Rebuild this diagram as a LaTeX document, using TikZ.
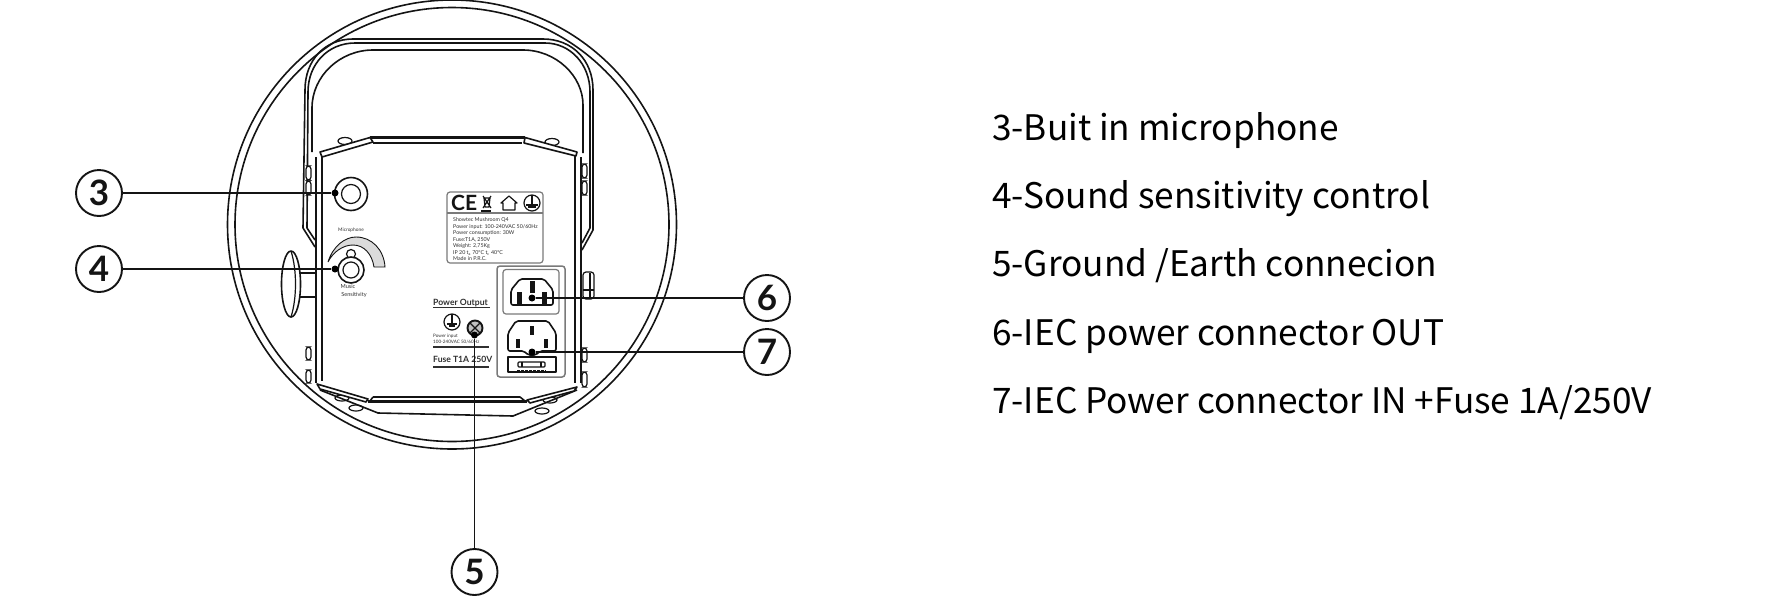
\documentclass[tikz,border=0pt]{standalone}
\usepackage{fontspec}
\setmainfont{Lato}
\newfontfamily\listfont{Noto Sans CJK SC}
\definecolor{ink}{HTML}{141414}
\definecolor{smalltxt}{HTML}{303030}
\definecolor{panel}{HTML}{7A7A7A}
\tikzset{
  art/.style={draw=ink,line width=1.6pt,line join=round},
  thin art/.style={draw=ink,line width=1.2pt,line join=round},
  soft/.style={draw=panel,line width=1.2pt,rounded corners=3pt},
  callout/.style={circle,draw=ink,line width=1.9pt,fill=white,minimum size=46pt,inner sep=0pt,font=\fontsize{35}{35}\selectfont\bfseries,text=ink},
  dot/.style={circle,fill=black,minimum size=7pt,inner sep=0pt},
  leader/.style={draw=ink,line width=1.7pt},
  listitem/.style={anchor=base west,inner sep=0pt,font=\listfont\fontsize{35.2}{40}\selectfont,text=black},
  tiny/.style={anchor=base west,inner sep=0pt,font=\fontsize{5.3}{6}\selectfont,text=smalltxt},
  panellabel/.style={anchor=base west,inner sep=0pt,font=\fontsize{8.6}{9}\selectfont\bfseries,text=smalltxt},
  rule/.style={draw=smalltxt,line width=1.4pt},
  pin/.style={fill=ink,draw=none},
  bump/.style={draw=ink,line width=1.2pt,fill=white,rounded corners=3pt},
}
\begin{document}
\begin{tikzpicture}[x=1pt,y=-1pt]
\useasboundingbox (0,0) rectangle (1785,600);
\fill[white] (0,0) rectangle (1785,600);
% housing ring
\draw[art] (452,224.5) circle (224.5pt);
\draw[art] (452,224.5) circle (217pt);
% handle
\draw[art] (315,247) -- (303,228) -- (305,90) .. controls (305,60) and (325,39) .. (353,39) -- (543,39) .. controls (572,39) and (593,60) .. (593,90) -- (593,230) -- (582,250);
\draw[art] (315,240) -- (307,228) -- (308,92) .. controls (308,64) and (328,43) .. (355,43) -- (545,43) .. controls (570,43) and (590,64) .. (590,92) -- (590,228) -- (582,243);
\draw[art] (312,152) -- (312,108) .. controls (312,76) and (340,50) .. (373,50) -- (523,50) .. controls (556,50) and (583,76) .. (583,105) -- (583,153);
% side bumps
\foreach \x/\a/\b in {306/166/180,306/181/195,306/347/360,306/370/383,582/164/178,582/181/195,582/348/362,582/372/387}
  \draw[bump] (\x,\a) rectangle ++(5,\b-\a);
\draw[bump] (583,272) rectangle (594,299);
\draw[thin art] (590,273) -- (590,298) (583,290) -- (594,290);
% top and bottom bumps
\draw[thin art,fill=white] (345,141) ellipse (7pt and 3.5pt);
\draw[thin art,fill=white] (552,142) ellipse (7pt and 3.5pt);
\draw[thin art,fill=white] (342,398) ellipse (7pt and 3pt);
\draw[thin art,fill=white] (356,408) ellipse (7pt and 3pt);
\draw[thin art,fill=white] (550,400) ellipse (7pt and 3pt);
\draw[thin art,fill=white] (542,411) ellipse (7pt and 3pt);
% side knob
\draw[art] (300,273) -- (315,273) (300,297) -- (315,297);
\draw[art,fill=white] (291,284) ellipse (9.5pt and 33pt);
\draw[thin art] (291,251) .. controls (297,270) and (297,298) .. (291,317);
% box
\draw[line width=2.8pt,draw=ink] (316,157) -- (316,383);
\draw[art] (322,155) -- (322,381);
\draw[line width=2.8pt,draw=ink] (581,157) -- (581,383);
\draw[art] (575,155) -- (575,383);
% top edge
\draw[line width=2.6pt,draw=ink] (370,137.5) -- (525,137.5);
\draw[art] (373,143) -- (522,143);
\draw[art,fill=white] (320,152) -- (370,137.5) -- (373,142) -- (322,157) -- cycle;
\draw[art,fill=white] (525,137.5) -- (577,152) -- (576,156) -- (524,143) -- cycle;
% bottom edge
\draw[line width=2.8pt,draw=ink] (368,401.5) -- (527,401.5);
\draw[art] (373,397) -- (520,397) (373,397) -- (370,401) (520,397) -- (525,401);
\draw[art] (320,390) -- (378,413) -- (513,416) -- (577,390);
\draw[art,fill=white] (317,384) -- (368,399) -- (366,402) -- (320,389) -- cycle;
\draw[art,fill=white] (527,400) -- (577,387) -- (574,391) -- (530,403) -- cycle;
% microphone
\draw[art] (351,194) circle (16.5pt);
\draw[thin art] (351,194) circle (9.5pt);
\node[tiny,anchor=base,font=\fontsize{4.8}{5}\selectfont] (miclabel) at (351,231) {Microphone};
% sensitivity control
\draw[draw=ink,line width=.9pt,fill=black!14] (328,262) .. controls (333,246) and (345,237) .. (356,237) .. controls (372,237) and (384,250) .. (385,267) -- (374,267) .. controls (372,254) and (364,245) .. (353,245) .. controls (343,245) and (333,252) .. (328,262) -- cycle;
\draw[thin art,fill=white] (351,254) circle (4.5pt);
\draw[art,fill=white] (351,270) circle (13pt);
\draw[thin art] (351,270) circle (8pt);
\node[tiny,anchor=base,font=\fontsize{5.6}{6}\selectfont] (musiclabel) at (348,288) {Music};
\node[tiny,anchor=base,font=\fontsize{5.6}{6}\selectfont] (senslabel) at (354,296) {Sensitivity};
% rating plate
\draw[soft] (447,192) rectangle (543,263);
\draw[draw=panel,line width=1.2pt] (447,213) -- (543,213);
\node[anchor=base west,inner sep=0pt,font=\fontsize{21}{21}\selectfont\bfseries,text=ink] (ce) at (451,210) {CE};
\draw[thin art] (483,196) -- (491,208) (491,196) -- (483,208) (484,198) -- (490,198) -- (489,207) -- (485,207) -- cycle;
\draw[line width=2pt,draw=ink] (481,210.5) -- (491,210.5);
\draw[thin art] (509,196) -- (517,203) -- (515,203) -- (515,210) -- (503,210) -- (503,203) -- (501,203) -- cycle;
\draw[thin art] (532,203) circle (8pt);
\draw[thin art] (532,195) -- (532,205) (526,205) -- (538,205) (528,207) -- (536,207);
\node[tiny] (p1) at (453,221) {Showtec Mushroom Q4};
\node[tiny] (p2) at (453,228) {Power input: 100-240VAC 50/60Hz};
\node[tiny] (p3) at (453,234.5) {Power consumption: 30W};
\node[tiny] (p4) at (453,241) {Fuse:T1A, 250V};
\node[tiny] (p5) at (453,247.5) {Weight: 2,75Kg};
\node[tiny] (p6) at (453,254) {IP 20 t$_{\mathrm a}$ 70°C t$_{\mathrm c}$ 40°C};
\node[tiny] (p7) at (453,260.5) {Made in P.R.C.};
% left panel labels
\node[panellabel] (poweroutput) at (433,305) {Power Output};
\draw[rule] (433,307.5) -- (490,307.5);
\draw[thin art] (452,322) circle (8pt);
\draw[thin art] (452,314) -- (452,324) (447,324) -- (457,324) (449,326) -- (455,326);
\draw[draw=ink,line width=1.9pt,fill=black!25] (475,328) circle (7.5pt);
\draw[thin art] (470,323) -- (480,333) (480,323) -- (470,333);
\node[tiny,font=\fontsize{4.6}{5}\selectfont] (pi1) at (433,337) {Power input};
\node[tiny,font=\fontsize{4.6}{5}\selectfont] (pi2) at (433,343.5) {100-240VAC 50/60Hz};
\draw[rule] (433,347) -- (489,347);
\node[panellabel] (fuselabel) at (433,362.5) {Fuse T1A 250V};
\draw[rule] (433,367) -- (489,367);
% socket panel
\draw[soft,line width=1.5pt] (497,266) rectangle (565,377);
\draw[soft] (503,269.5) -- (559,269.5) -- (559,314) -- (503,314) -- cycle;
\draw[art,rounded corners=2pt] (511,290) -- (520,279) -- (544,279) -- (553,290) -- (553,305) -- (511,305) -- cycle;
\fill[pin] (529.5,281) rectangle (534.5,293);
\fill[pin] (516.5,292) rectangle (521.5,304);
\fill[pin] (541.5,292) rectangle (546.5,304);
\draw[art,rounded corners=2pt] (508,333) -- (516,321) -- (548,321) -- (556,333) -- (556,351) -- (540,351) -- (536,355) -- (528,355) -- (524,351) -- (508,351) -- cycle;
\fill[pin] (530,326) rectangle (534,335);
\fill[pin] (516,339) rectangle (520,348);
\fill[pin] (544,339) rectangle (548,348);
\draw[thin art] (508,357) rectangle (556,372);
\draw[thin art,rounded corners=1pt] (518,362) rectangle (545,367);
\draw[thin art] (522,362) -- (522,367) (541,362) -- (541,367);
\draw[line width=1.4pt,draw=ink,dash pattern=on 3pt off 1pt] (517,370.5) -- (546,370.5);
% callouts
\node[callout] (c3) at (99,193) {3};
\node[callout] (c4) at (99,269) {4};
\node[callout] (c5) at (474.5,572) {5};
\node[callout] (c6) at (767,298) {6};
\node[callout] (c7) at (767,352) {7};
\node[dot] (d3) at (335,193) {};
\node[dot] (d4) at (335,269) {};
\node[dot] (d5) at (474.5,335) {};
\node[dot] (d6) at (532,298) {};
\node[dot] (d7) at (532,352) {};
\draw[leader] (c3) -- (d3);
\draw[leader] (c4) -- (d4);
\draw[leader] (c5) -- (d5);
\draw[leader] (c6) -- (d6);
\draw[leader] (c7) -- (d7);
% legend
\node[listitem] (l3) at (992,140) {3-Buit in microphone};
\node[listitem] (l4) at (992,208.3) {4-Sound sensitivity control};
\node[listitem] (l5) at (992,276.7) {5-Ground /Earth connecion};
\node[listitem] (l6) at (992,345) {6-IEC power connector OUT};
\node[listitem] (l7) at (992,413.3) {7-IEC Power connector IN +Fuse 1A/250V};
\end{tikzpicture}
\end{document}
